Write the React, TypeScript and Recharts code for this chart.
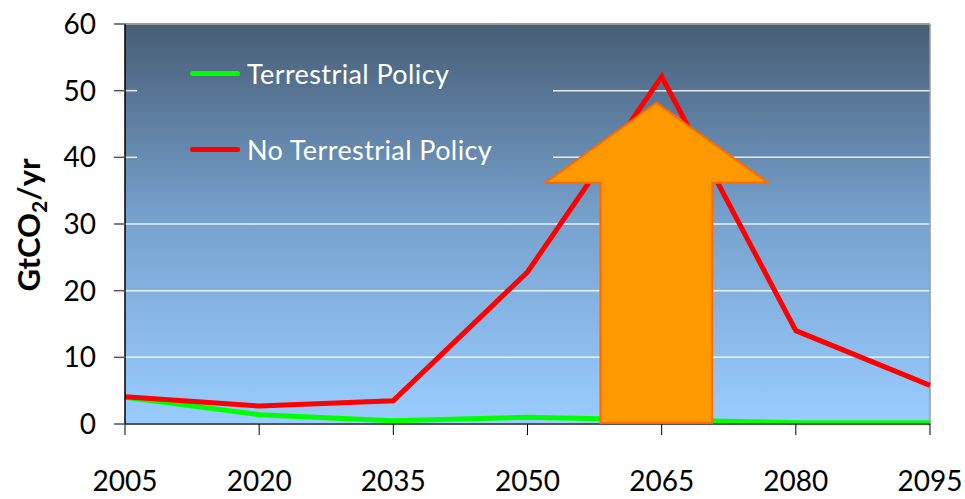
import React from "react";
import {
  LineChart,
  Line,
  XAxis,
  YAxis,
  CartesianGrid,
  ReferenceLine,
  ReferenceArea,
} from "recharts";

const years = [2005, 2020, 2035, 2050, 2065, 2080, 2095];
const terrestrialPolicy = [4.0, 1.4, 0.5, 1.0, 0.6, 0.2, 0.2];
const noTerrestrialPolicy = [4.1, 2.7, 3.5, 22.8, 52.1, 14.0, 5.8];
const yTicks = [0, 10, 20, 30, 40, 50, 60];
const seriesNames = ["Terrestrial Policy", "No Terrestrial Policy"];
const seriesColors = ["#00ff00", "#ff0000"];

const data = years.map((year, i) => ({
  year,
  terrestrial: terrestrialPolicy[i],
  noTerrestrial: noTerrestrialPolicy[i],
}));

const FONT = "Lato, 'Open Sans', sans-serif";

const XTick = (props: any) => {
  const { x, y, payload } = props;
  return (
    <text x={x} y={y + 54} textAnchor="middle" fontSize={28} fontFamily={FONT} fill="#000">
      {payload.value}
    </text>
  );
};

const YTick = (props: any) => {
  const { x, y, payload } = props;
  return (
    <text x={x - 16} y={y + 10} textAnchor="end" fontSize={28} fontFamily={FONT} fill="#000">
      {payload.value}
    </text>
  );
};

const YLabel = (props: any) => {
  const vb = props.viewBox || {};
  const cx = 30;
  const cy = vb.y + vb.height / 2 + 1;
  return (
    <text
      transform={`translate(${cx},${cy}) rotate(-90)`}
      textAnchor="middle"
      fontSize={31}
      fontWeight="bold"
      fontFamily={FONT}
      fill="#000"
      dy={10}
    >
      GtCO
      <tspan fontSize={21} dy={7}>2</tspan>
      <tspan dy={-7}>/yr</tspan>
    </text>
  );
};

// arrow annotation drawn inside the box the library computes
const UpArrow = (props: any) => {
  const { x, y, width, height } = props;
  const sl = x + width * 0.247;
  const sr = x + width * 0.749;
  const sh = y + height * 0.25;
  const pts = [
    [x + width * 0.498, y],
    [x + width, sh],
    [sr, sh],
    [sr, y + height],
    [sl, y + height],
    [sl, sh],
    [x, sh],
  ]
    .map((p) => p.join(","))
    .join(" ");
  return <polygon points={pts} fill="#ff9900" stroke="#ff6a00" strokeWidth={2} />;
};

const LegendBox = () => (
  <div style={{ position: "absolute", left: 137, top: 40, width: 416, height: 140 }}>
    {seriesNames.map((name, i) => (
      <div
        key={name}
        style={{
          position: "absolute",
          left: 53,
          top: 17 + i * 76,
          display: "flex",
          alignItems: "center",
          whiteSpace: "nowrap",
        }}
      >
        <div style={{ width: 50, height: 5, borderRadius: 3, background: seriesColors[i], marginRight: 7 }} />
        <span style={{ color: "#fff", fontSize: 27, fontFamily: FONT, letterSpacing: 0.4 }}>{name}</span>
      </div>
    ))}
  </div>
);

const gridLine = { stroke: "#ffffff", strokeWidth: 1.5, strokeOpacity: 0.85 };

export default function App() {
  return (
    <div style={{ position: "absolute", left: 0, top: 0, width: 965, height: 499, background: "#fff" }}>
      <LineChart width={965} height={499} data={data} margin={{ top: 24, right: 35, left: 0, bottom: 0 }}>
        <defs>
          <linearGradient id="plotBg" x1="0" y1="0" x2="0" y2="1">
            <stop offset="0%" stopColor="#475d76" />
            <stop offset="50%" stopColor="#78a3cf" />
            <stop offset="100%" stopColor="#99ccff" />
          </linearGradient>
        </defs>
        <CartesianGrid horizontal={false} vertical={false} fill="url(#plotBg)" fillOpacity={1} />
        <XAxis
          dataKey="year"
          type="number"
          domain={[2005, 2095]}
          ticks={years}
          interval={0}
          height={75}
          tick={<XTick />}
          tickSize={11}
          tickLine={{ stroke: "#000", strokeWidth: 1 }}
          axisLine={{ stroke: "#555", strokeWidth: 2 }}
        />
        <YAxis
          domain={[0, 60]}
          ticks={yTicks}
          interval={0}
          width={125}
          tick={<YTick />}
          tickSize={11}
          tickLine={{ stroke: "#555", strokeWidth: 1.5 }}
          axisLine={{ stroke: "#000", strokeWidth: 1.5 }}
          label={<YLabel />}
        />
        {[10, 20, 30].map((v) => (
          <ReferenceLine key={v} y={v} {...gridLine} />
        ))}
        {[40, 50].map((v) => (
          <ReferenceLine key={`a${v}`} segment={[{ x: 2005, y: v }, { x: 2006.35, y: v }]} {...gridLine} />
        ))}
        {[40, 50].map((v) => (
          <ReferenceLine key={`b${v}`} segment={[{ x: 2052.85, y: v }, { x: 2095, y: v }]} {...gridLine} />
        ))}
        <ReferenceLine y={60} stroke="#9a9a9a" strokeWidth={2} />
        <ReferenceLine x={2095} stroke="#9a9a9a" strokeWidth={1.5} />
        <Line
          type="linear"
          dataKey="terrestrial"
          name={seriesNames[0]}
          stroke={seriesColors[0]}
          strokeWidth={5}
          dot={false}
          isAnimationActive={false}
        />
        <Line
          type="linear"
          dataKey="noTerrestrial"
          name={seriesNames[1]}
          stroke={seriesColors[1]}
          strokeWidth={5}
          dot={false}
          isAnimationActive={false}
        />
        <ReferenceArea
          x1={2052.0}
          x2={2076.9}
          y1={0.15}
          y2={48.2}
          shape={<UpArrow />}
          zIndex={1000}
        />
      </LineChart>
      <LegendBox />
    </div>
  );
}
